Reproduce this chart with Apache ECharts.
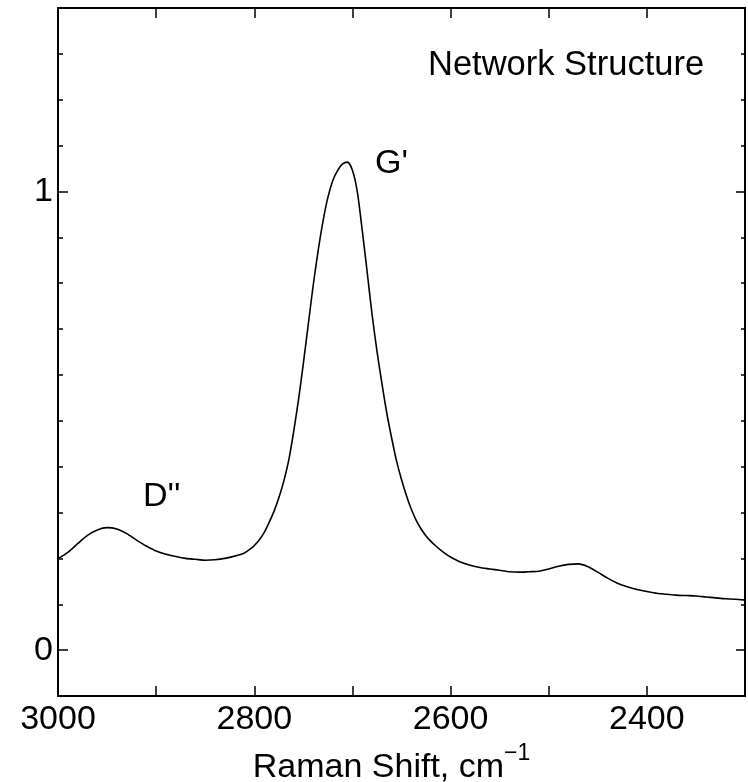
<!DOCTYPE html>
<html>
<head>
<meta charset="utf-8">
<script src="https://cdn.jsdelivr.net/npm/echarts@6/dist/echarts.min.js"></script>
<style>
  html, body { margin: 0; padding: 0; background: #ffffff; }
  #chart { width: 748px; height: 782px; }
</style>
</head>
<body>
<div id="chart"></div>
<script>
// Raman spectrum, second-order region (G' and D'' bands)
const ramanShift = [
  3000, 2990, 2980, 2970, 2960, 2950, 2940, 2930, 2920, 2910,
  2900, 2890, 2880, 2870, 2860, 2850, 2840, 2830, 2820, 2810,
  2805, 2800, 2795, 2790, 2785, 2780, 2775, 2770, 2765, 2760, 2755,
  2750, 2745, 2740, 2735, 2730, 2725, 2720, 2715, 2710, 2705,
  2700, 2695, 2690, 2685, 2680, 2675, 2670, 2665, 2660, 2655,
  2650, 2645, 2640, 2635, 2630, 2625, 2620, 2615, 2610, 2605,
  2600, 2590, 2580, 2570, 2560, 2550, 2540, 2530, 2520, 2510,
  2500, 2490, 2480, 2470, 2460, 2450, 2440, 2430, 2420, 2410,
  2400, 2390, 2380, 2370, 2360, 2350, 2340, 2330, 2320, 2310, 2300
];
const intensity = [
  0.199, 0.213, 0.232, 0.250, 0.262, 0.267, 0.264, 0.254, 0.240, 0.227,
  0.216, 0.209, 0.204, 0.200, 0.198, 0.196, 0.197, 0.200, 0.205, 0.212,
  0.219, 0.228, 0.240, 0.256, 0.278, 0.302, 0.332, 0.368, 0.413, 0.475, 0.545,
  0.625, 0.710, 0.795, 0.870, 0.935, 0.987, 1.024, 1.046, 1.060, 1.064,
  1.046, 0.999, 0.915, 0.825, 0.732, 0.652, 0.582, 0.517, 0.462, 0.412,
  0.372, 0.337, 0.307, 0.283, 0.264, 0.249, 0.237, 0.227, 0.218, 0.210,
  0.203, 0.192, 0.185, 0.180, 0.177, 0.174, 0.171, 0.170, 0.171, 0.172,
  0.177, 0.183, 0.187, 0.188, 0.182, 0.170, 0.157, 0.146, 0.138, 0.132,
  0.128, 0.124, 0.122, 0.120, 0.119, 0.118, 0.116, 0.114, 0.112, 0.111, 0.109
];
const xLabelValues = [3000, 2800, 2600, 2400];
const yLabelValues = [0, 1];
const bandLabels = ["Network Structure", "G'", "D''"];

const FONT = '"Liberation Sans", Arial, Helvetica, sans-serif';
const INK = '#000000';

const points = ramanShift.map((x, i) => [x, intensity[i]]);

function xAxisBase(pos, withLabels) {
  return {
    type: 'value',
    position: pos,
    min: 2300, max: 3000, interval: 100,
    inverse: true,
    axisLine: { show: true, onZero: false, lineStyle: { color: INK, width: 2 } },
    axisTick: { show: true, inside: true, length: 10, lineStyle: { color: INK, width: 1.5 } },
    axisLabel: {
      show: withLabels,
      margin: 7,
      fontSize: 34, fontFamily: FONT, color: INK,
      formatter: v => (xLabelValues.includes(v) ? String(v) : '')
    },
    splitLine: { show: false }
  };
}

function yAxisBase(pos, tickLen, major, withLabels) {
  const ax = {
    type: 'value',
    position: pos,
    min: -0.1, max: 1.4,
    axisLine: { show: true, onZero: false, lineStyle: { color: INK, width: 2 } },
    axisTick: { show: true, inside: true, length: tickLen, lineStyle: { color: INK, width: 1.5 } },
    axisLabel: { show: false },
    splitLine: { show: false }
  };
  if (major) {
    ax.axisTick.customValues = yLabelValues;
    if (withLabels) {
      ax.axisLabel = {
        show: true, customValues: yLabelValues, margin: 5,
        fontSize: 34, fontFamily: FONT, color: INK,
        formatter: v => String(Math.round(v))
      };
    }
  } else {
    ax.interval = 0.1;
  }
  return ax;
}

const chart = echarts.init(document.getElementById('chart'), null, { renderer: 'canvas' });

const xBottom = xAxisBase('bottom', true);
xBottom.name = "{m|Raman Shift, cm}{s|\u22121}";
xBottom.nameLocation = 'middle';
xBottom.nameGap = 37;
xBottom.nameTextStyle = {
  padding: [0, 20, 0, 0],
  rich: {
    m: { fontSize: 34, fontFamily: FONT, color: INK, lineHeight: 43, verticalAlign: 'bottom' },
    s: { fontSize: 23, fontFamily: FONT, color: INK, lineHeight: 23, verticalAlign: 'top' }
  }
};

chart.setOption({
  animation: false,
  backgroundColor: '#ffffff',
  grid: { left: 58, right: 3, top: 8, bottom: 86, containLabel: false, outerBoundsMode: 'none' },
  xAxis: [xBottom, xAxisBase('top', false)],
  yAxis: [
    yAxisBase('left', 5, false, false),
    yAxisBase('left', 10, true, true),
    yAxisBase('right', 4, false, false),
    yAxisBase('right', 9, true, false)
  ],
  graphic: [
    { type: 'text', left: 428, top: 48, style: { text: bandLabels[0], font: '34.5px ' + FONT, fill: INK } },
    { type: 'text', left: 375, top: 147, style: { text: bandLabels[1], font: '34px ' + FONT, fill: INK } },
    { type: 'text', left: 143, top: 480, style: { text: bandLabels[2], font: '34px ' + FONT, fill: INK } }
  ],
  series: [{
    type: 'line',
    xAxisIndex: 0,
    yAxisIndex: 0,
    data: points,
    showSymbol: false,
    smooth: 0.25,
    lineStyle: { color: INK, width: 1.6 },
    silent: true
  }]
});
</script>
</body>
</html>
